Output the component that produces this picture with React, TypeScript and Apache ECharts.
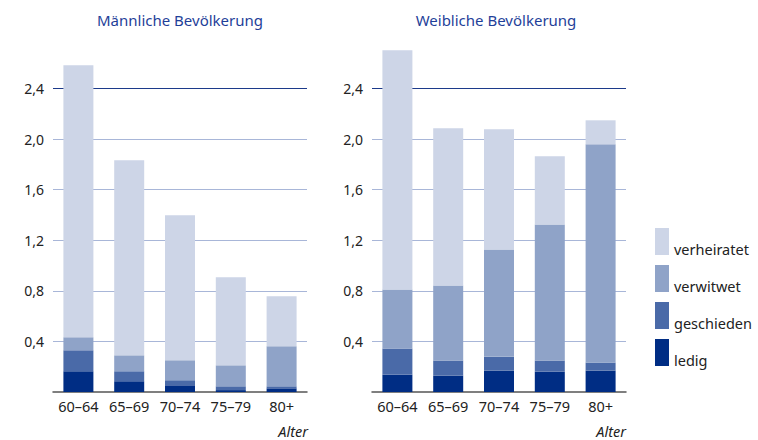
import React, { useEffect, useRef } from "react";
import * as echarts from "echarts";

const categories = ["60–64", "65–69", "70–74", "75–79", "80+"];
const seriesNames = ["ledig", "geschieden", "verwitwet", "verheiratet"];
const legendOrder = ["verheiratet", "verwitwet", "geschieden", "ledig"];
const yTicks = [0, 0.4, 0.8, 1.2, 1.6, 2.0, 2.4, 2.8];

// Männliche Bevölkerung (Mio.)
const maleLedig = [0.164, 0.085, 0.053, 0.015, 0.029];
const maleGeschieden = [0.166, 0.079, 0.04, 0.03, 0.016];
const maleVerwitwet = [0.103, 0.126, 0.158, 0.166, 0.317];
const maleVerheiratet = [2.152, 1.543, 1.147, 0.696, 0.395];

// Weibliche Bevölkerung (Mio.)
const femaleLedig = [0.137, 0.129, 0.169, 0.161, 0.169];
const femaleGeschieden = [0.206, 0.119, 0.111, 0.087, 0.063];
const femaleVerwitwet = [0.467, 0.594, 0.847, 1.077, 1.727];
const femaleVerheiratet = [1.893, 1.244, 0.951, 0.539, 0.19];

const colors = ["#002d84", "#4a6aa8", "#8fa3c8", "#cdd5e7"];
const FONT = "Noto Sans";

export default function App() {
  const ref = useRef<HTMLDivElement>(null);
  useEffect(() => {
    document.body.style.margin = "0";
    if (!ref.current) return;
    const chart = echarts.init(ref.current, null, { renderer: "svg" });
    const maleData = [maleLedig, maleGeschieden, maleVerwitwet, maleVerheiratet];
    const femaleData = [femaleLedig, femaleGeschieden, femaleVerwitwet, femaleVerheiratet];

    const splitColors = yTicks.map((v) =>
      v === 0 || v === 2.8 ? "rgba(0,0,0,0)" : v === 2.4 ? "#1c3a8a" : "#a8b6d8"
    );

    const yAxisBase = (gridIndex: number) => ({
      type: "value" as const,
      gridIndex,
      min: yTicks[0],
      max: yTicks[yTicks.length - 1],
      interval: 0.4,
      axisLine: { show: false },
      axisTick: { show: false },
      axisLabel: {
        margin: 9,
        fontFamily: FONT,
        fontSize: 14,
        color: "#222",
        showMinLabel: false,
        showMaxLabel: false,
        formatter: (v: number) => v.toFixed(1).replace(".", ","),
      },
      splitLine: { lineStyle: { color: splitColors, width: 1.2 } },
    });

    const xAxisBase = (gridIndex: number) => ({
      type: "category" as const,
      gridIndex,
      data: categories,
      axisLine: { lineStyle: { color: "#555", width: 1.5 } },
      axisTick: { show: false },
      axisLabel: { interval: 0, margin: 6, fontFamily: FONT, fontSize: 14.5, color: "#222" },
    });

    const makeSeries = (data: number[][], idx: number, stack: string) =>
      seriesNames.map((name, i) => ({
        name,
        type: "bar" as const,
        stack,
        xAxisIndex: idx,
        yAxisIndex: idx,
        barWidth: 30,
        itemStyle: { color: colors[i] },
        data: data[i],
      }));

    const titleStyle = { fontFamily: FONT, fontSize: 15, fontWeight: "normal" as const, color: "#1f3f99" };
    const alterStyle = {
      fontFamily: FONT,
      fontSize: 14.5,
      fontStyle: "italic" as const,
      fontWeight: "normal" as const,
      color: "#222",
    };

    chart.setOption({
      animation: false,
      title: [
        { text: "Männliche Bevölkerung", left: 180, top: 12, padding: 0, textAlign: "center", textStyle: titleStyle },
        { text: "Weibliche Bevölkerung", left: 496, top: 12, padding: 0, textAlign: "center", textStyle: titleStyle },
        { text: "Alter", left: 308, top: 423, padding: 0, textAlign: "right", textStyle: alterStyle },
        { text: "Alter", left: 626, top: 423, padding: 0, textAlign: "right", textStyle: alterStyle },
      ],
      legend: {
        orient: "vertical",
        left: 655,
        top: 226.5,
        padding: 0,
        itemWidth: 14,
        itemHeight: 27,
        itemGap: 7,
        icon: "rect",
        data: legendOrder,
        selectedMode: false,
        formatter: (name: string) => "\n" + name,
        textStyle: { fontFamily: FONT, fontSize: 14.5, color: "#222", lineHeight: 15 },
      },
      grid: [
        { left: 53, right: 451, top: 38, bottom: 48 },
        { left: 372, right: 132, top: 38, bottom: 48 },
      ],
      xAxis: [xAxisBase(0), xAxisBase(1)],
      yAxis: [yAxisBase(0), yAxisBase(1)],
      series: [...makeSeries(maleData, 0, "m"), ...makeSeries(femaleData, 1, "f")],
    });
    return () => chart.dispose();
  }, []);
  return <div ref={ref} style={{ width: 758, height: 440 }} />;
}
